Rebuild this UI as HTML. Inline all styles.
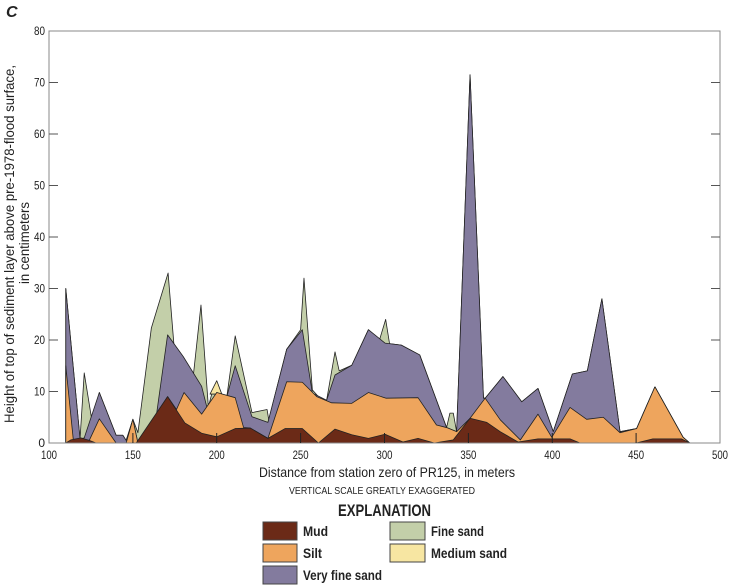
<!DOCTYPE html>
<html><head><meta charset="utf-8"><style>
body{margin:0;background:#fff;width:729px;height:586px;overflow:hidden}
svg{display:block}
text{font-family:"Liberation Sans Narrow","Liberation Sans",sans-serif;fill:#222}
</style></head><body>
<svg width="729" height="586" viewBox="0 0 729 586">
<text x="6" y="17" font-size="16" font-weight="bold" font-style="italic">C</text>
<g transform="translate(49,443) scale(1.6775,-5.15) translate(-100,0)" stroke="#222" stroke-width="0.8" stroke-linejoin="round">
<polygon vector-effect="non-scaling-stroke" fill="#c3cfa9" points="110,0 110,30 118.5,0.8 121,13.6 126,3.5 130,9.8 140,1.5 144,1.5 146,0.5 150,4.6 153,2 161,22.3 171,33 175,17 185,10 190.6,26.8 195,7 197,9.5 203,9.5 206,9 211,20.8 221,5.9 230,6.5 231,4.5 241.7,18.2 250,22 252,32 257,10.3 262,8.5 265.5,8.3 270.5,17.7 273,14 280.5,15.1 290.4,22 297,20 300.7,24 303,19.3 310,19 321,17.1 337,3 339,5.8 341,5.8 343,2.2 351,71.5 359,8.7 360,8.7 370.6,12.9 381.8,8 391.5,10.6 400.6,2.2 412,13.4 420.9,14 429.6,28 440.4,2.2 450.3,2.8 461.2,10.9 478,1.1 482,0"/>
<polygon vector-effect="non-scaling-stroke" fill="#f7e6a2" points="196,9.5 200,12.1 203,9.5"/>
<polygon vector-effect="non-scaling-stroke" fill="#837b9e" points="110,0 110,30 118.5,0.8 121,1 130,9.8 140,1.5 144,1.5 146,0.5 150,4.6 153,0 163,3 170.7,21 180,16.8 191,11 195,5.8 200,9.8 206,9 211,15 221,5.1 230.5,4 241.7,18.2 251,22 257,9.7 265.5,8.3 270.5,13.2 280.5,15.1 290.4,22 300.3,19.4 310,19 321,17.1 337,3 343,2.2 351,71.5 359,8.7 360,8.7 370.6,12.9 381.8,8 391.5,10.6 400.6,2.2 412,13.4 420.9,14 429.6,28 440.4,2.2 450.3,2.8 461.2,10.9 478,1.1 482,0"/>
<polygon vector-effect="non-scaling-stroke" fill="#eea55d" points="110,0 110,15 114.5,0.6 124,0.5 130,4.7 140,0 146,0 150,4.6 153,0 170.7,9 176,6.5 180.5,9.8 191,5.6 200,9.8 211,8.8 216,3 220,2.9 230.5,0.9 241.7,11.9 251,11.8 259.6,9 268.5,7.8 280.5,7.7 290.4,9.8 301,8.7 320,8.8 331,3.5 337,3 343,2.2 351,4.8 360,8.7 369,4.5 381,0.6 391.5,5.6 399.7,1.1 410.6,6.9 420.5,4.6 430.4,5 440.4,2 450.3,2.8 461.2,10.9 478,1.1 482,0"/>
<polygon vector-effect="non-scaling-stroke" fill="#6b2a17" points="110,0 113,0.6 119,1 124,0.5 128,0 152,0 170.7,9 181,3.9 191,1.9 200,1.2 211,2.8 220,2.9 230.5,0.9 240.7,2.8 251,2.8 260.6,0 270.5,2.7 280.5,1.6 290.4,0.9 300.3,1.7 311,0.2 320,0.9 329.7,0 341,0.6 351,4.8 361,4 369,2.2 379.6,0.2 391.5,0.8 410.6,0.8 416.5,0 450,0 460,0.8 477,0.8 482,0"/>
</g>
<rect x="49" y="31" width="671" height="412" fill="none" stroke="#888" stroke-width="1"/>
<g stroke="#222" stroke-width="1">
<line x1="132.9" y1="443" x2="132.9" y2="433"/><line x1="216.7" y1="443" x2="216.7" y2="433"/><line x1="300.6" y1="443" x2="300.6" y2="433"/><line x1="384.5" y1="443" x2="384.5" y2="433"/><line x1="468.4" y1="443" x2="468.4" y2="433"/><line x1="552.3" y1="443" x2="552.3" y2="433"/><line x1="636.1" y1="443" x2="636.1" y2="433"/>
</g>
<g stroke="#555" stroke-width="1">
<line x1="49" y1="391.5" x2="58" y2="391.5"/><line x1="49" y1="340" x2="58" y2="340"/><line x1="49" y1="288.5" x2="58" y2="288.5"/><line x1="49" y1="237" x2="58" y2="237"/><line x1="49" y1="185.5" x2="58" y2="185.5"/><line x1="49" y1="134" x2="58" y2="134"/><line x1="49" y1="82.5" x2="58" y2="82.5"/>
<line x1="711" y1="391.5" x2="720" y2="391.5"/><line x1="711" y1="340" x2="720" y2="340"/><line x1="711" y1="288.5" x2="720" y2="288.5"/><line x1="711" y1="237" x2="720" y2="237"/><line x1="711" y1="185.5" x2="720" y2="185.5"/><line x1="711" y1="134" x2="720" y2="134"/><line x1="711" y1="82.5" x2="720" y2="82.5"/>
</g>
<g font-size="12" text-anchor="end" lengthAdjust="spacingAndGlyphs">
<text x="45" y="447">0</text><text x="45" y="395.5" textLength="11" lengthAdjust="spacingAndGlyphs">10</text><text x="45" y="344" textLength="11" lengthAdjust="spacingAndGlyphs">20</text><text x="45" y="292.5" textLength="11" lengthAdjust="spacingAndGlyphs">30</text><text x="45" y="241" textLength="11" lengthAdjust="spacingAndGlyphs">40</text><text x="45" y="189.5" textLength="11" lengthAdjust="spacingAndGlyphs">50</text><text x="45" y="138" textLength="11" lengthAdjust="spacingAndGlyphs">60</text><text x="45" y="86.5" textLength="11" lengthAdjust="spacingAndGlyphs">70</text><text x="45" y="35" textLength="11" lengthAdjust="spacingAndGlyphs">80</text>
</g>
<g font-size="12">
<text x="41" y="459" textLength="16" lengthAdjust="spacingAndGlyphs">100</text><text x="124.9" y="459" textLength="16" lengthAdjust="spacingAndGlyphs">150</text><text x="208.7" y="459" textLength="16" lengthAdjust="spacingAndGlyphs">200</text><text x="292.6" y="459" textLength="16" lengthAdjust="spacingAndGlyphs">250</text><text x="376.5" y="459" textLength="16" lengthAdjust="spacingAndGlyphs">300</text><text x="460.4" y="459" textLength="16" lengthAdjust="spacingAndGlyphs">350</text><text x="544.3" y="459" textLength="16" lengthAdjust="spacingAndGlyphs">400</text><text x="628.1" y="459" textLength="16" lengthAdjust="spacingAndGlyphs">450</text><text x="712" y="459" textLength="16" lengthAdjust="spacingAndGlyphs">500</text>
</g>
<text x="259" y="477" font-size="14" textLength="256" lengthAdjust="spacingAndGlyphs">Distance from station zero of PR125, in meters</text>
<text x="289" y="494" font-size="10.5" fill="#444" textLength="186" lengthAdjust="spacingAndGlyphs">VERTICAL SCALE GREATLY EXAGGERATED</text>
<g font-size="13.5">
<text transform="translate(14,423) rotate(-90)" textLength="358" lengthAdjust="spacingAndGlyphs">Height of top of sediment layer above pre-1978-flood surface,</text>
<text transform="translate(29,284) rotate(-90)" textLength="82" lengthAdjust="spacingAndGlyphs">in centimeters</text>
</g>
<text x="338" y="516" font-size="17" font-weight="bold" textLength="93" lengthAdjust="spacingAndGlyphs">EXPLANATION</text>
<g stroke="#444" stroke-width="1">
<rect x="263" y="522" width="34" height="18" fill="#6b2a17"/>
<rect x="263" y="544" width="34" height="18" fill="#eea55d"/>
<rect x="263" y="566" width="34" height="18" fill="#837b9e"/>
<rect x="390" y="522" width="35" height="18" fill="#c3cfa9"/>
<rect x="390" y="544" width="35" height="18" fill="#f7e6a2"/>
</g>
<g font-size="14" font-weight="bold">
<text x="303" y="536" textLength="25" lengthAdjust="spacingAndGlyphs">Mud</text><text x="303" y="558" textLength="19" lengthAdjust="spacingAndGlyphs">Silt</text><text x="303" y="580" textLength="79" lengthAdjust="spacingAndGlyphs">Very fine sand</text>
<text x="431" y="536" textLength="53" lengthAdjust="spacingAndGlyphs">Fine sand</text><text x="431" y="558" textLength="76" lengthAdjust="spacingAndGlyphs">Medium sand</text>
</g>
</svg>
</body></html>
